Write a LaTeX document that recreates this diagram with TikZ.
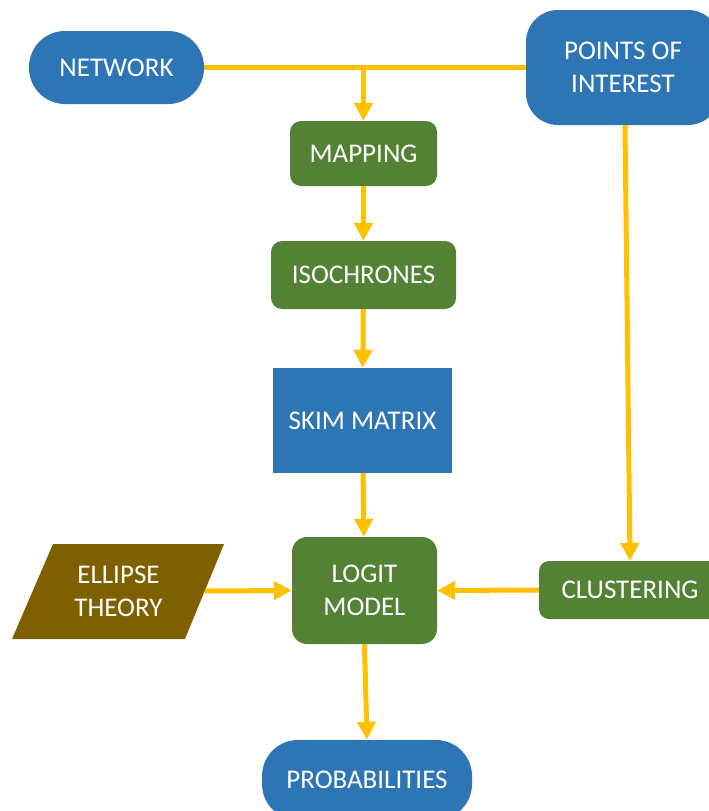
\documentclass[tikz,border=0pt]{standalone}
\usepackage{fontspec}
\setmainfont{Carlito}
\usetikzlibrary{arrows.meta}
\definecolor{boxblue}{HTML}{2E75B6}
\definecolor{boxgreen}{HTML}{548235}
\definecolor{boxbrown}{HTML}{7F6000}
\definecolor{flow}{HTML}{FFC000}
\begin{document}
\begin{tikzpicture}[x=1pt,y=-1pt,
  box/.style={draw=none,text=white,align=center,inner sep=0pt,
    font=\fontsize{27}{33}\selectfont},
  terminal/.style={box,fill=boxblue,rounded corners=36pt},
  process/.style={box,fill=boxgreen,rounded corners=11pt},
  flowline/.style={draw=flow,line width=5pt},
  flowarrow/.style={flowline,-{Triangle[length=18pt,width=18pt]}}]
  \clip (0,0) rectangle (709,811);
  \fill[white] (0,0) rectangle (709,811);

  % sources
  \node[terminal,minimum width=175pt,minimum height=73pt] (network) at (116.5,67.5) {NETWORK};
  \node[terminal,rounded corners=32pt,minimum width=194pt,minimum height=115pt] (poi) at (623,67.5) {POINTS OF\\INTEREST};

  % main chain
  \node[process,minimum width=147pt,minimum height=65pt] (mapping) at (363.5,153.5) {MAPPING};
  \node[process,minimum width=185pt,minimum height=68pt] (iso) at (363.5,275) {ISOCHRONES};
  \node[box,fill=boxblue,minimum width=179pt,minimum height=105pt] (skim) at (362.5,420.5) {SKIM MATRIX};
  \node[process,rounded corners=15pt,minimum width=145pt,minimum height=107pt] (logit) at (364.5,590.5) {LOGIT\\MODEL};
  \node[terminal,minimum width=210pt,minimum height=80pt] (prob) at (367,780) {PROBABILITIES};

  % side inputs
  \fill[boxbrown] (53,544) -- (224,544) -- (185,639) -- (12,639) -- cycle;
  \node[box,minimum width=173pt,minimum height=95pt] (ellipse) at (118.5,591) {ELLIPSE\\THEORY};
  \node[process,rounded corners=10pt,minimum width=182pt,minimum height=58pt] (clust) at (630,590) {CLUSTERING};

  % connectors
  \draw[flowline] (network.east) -- (poi.west);
  \draw[flowarrow] (mapping.north |- network.east) -- (mapping.north);
  \draw[flowarrow] (mapping) -- (iso);
  \draw[flowarrow] (iso) -- (skim);
  \draw[flowarrow] (skim) -- (logit);
  \draw[flowarrow] (logit.south) -- (prob.north);
  \draw[flowarrow] (ellipse.east) -- (logit.west);
  \draw[flowarrow] (clust.west) -- (logit.east);
  \draw[flowarrow] ([xshift=2pt]poi.south) -- (clust.north);
\end{tikzpicture}
\end{document}
